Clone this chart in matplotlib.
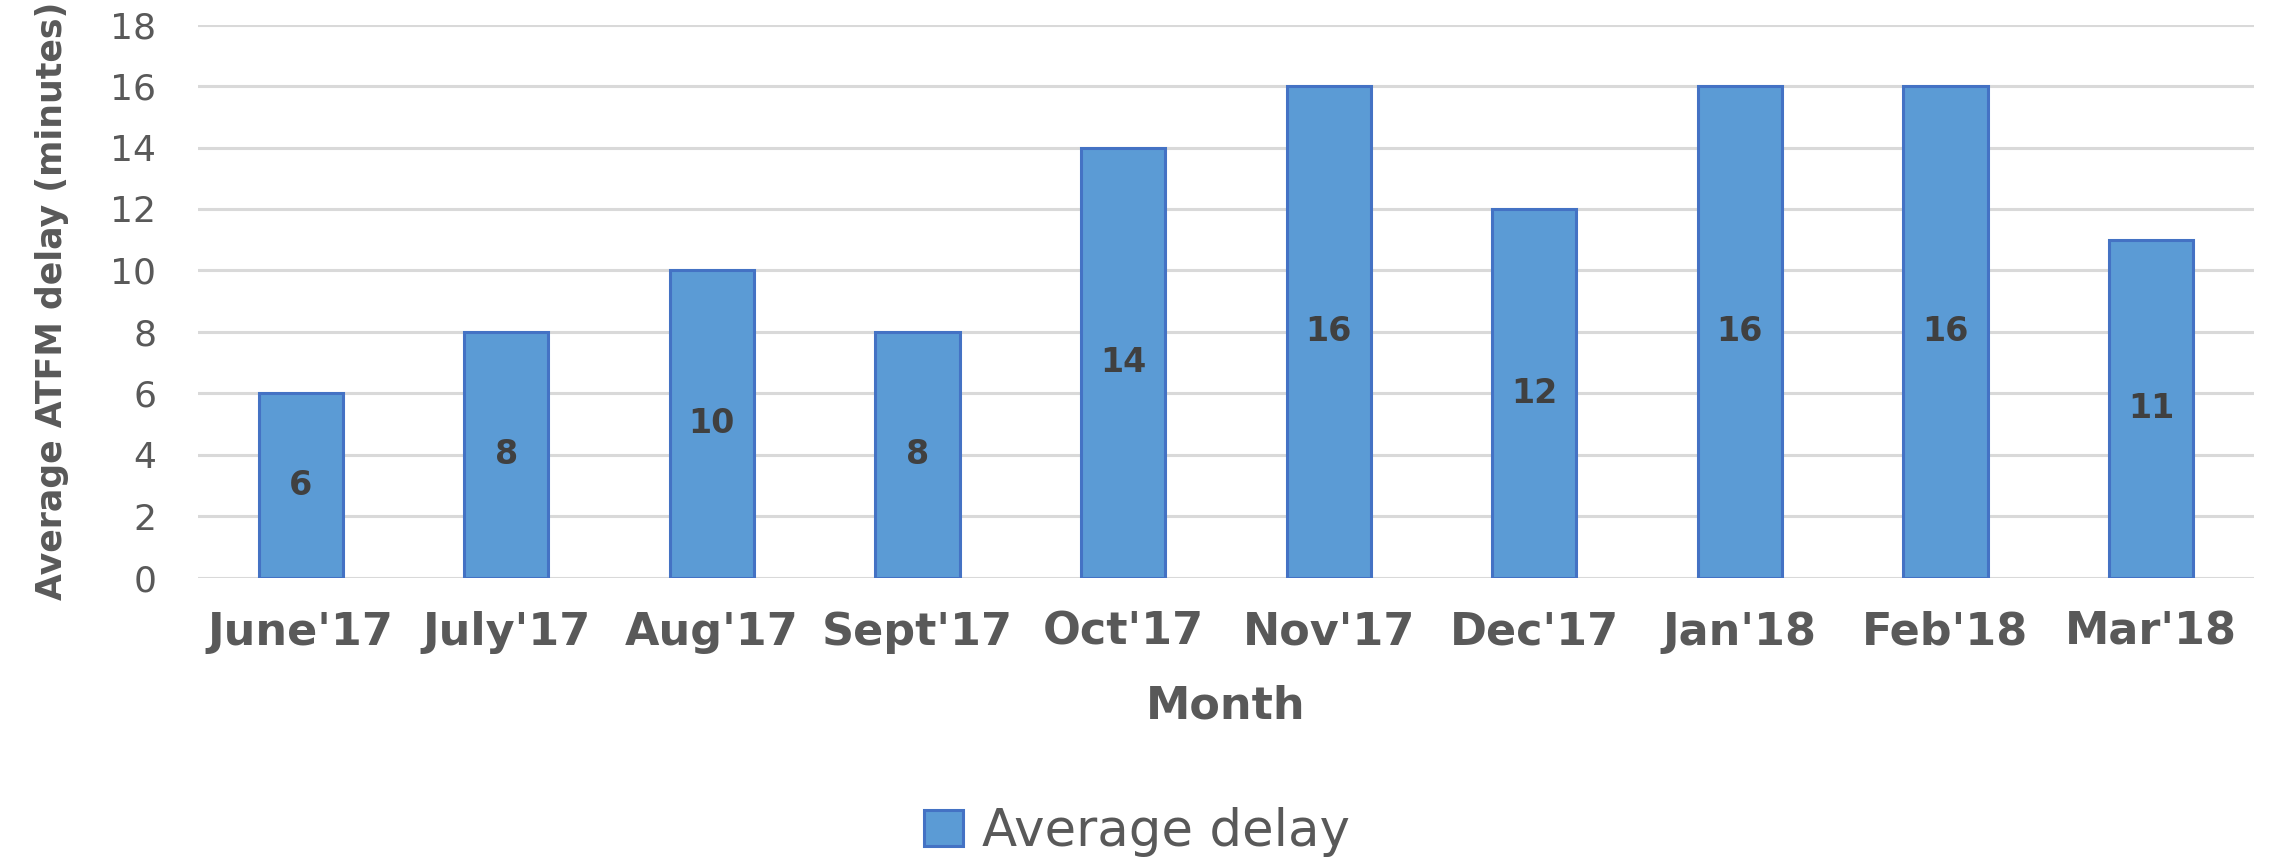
import numpy as np
import matplotlib
matplotlib.use('Agg')
import matplotlib.pyplot as plt


months = ["June'17", "July'17", "Aug'17", "Sept'17", "Oct'17",
          "Nov'17", "Dec'17", "Jan'18", "Feb'18", "Mar'18"]
delay = [6, 8, 10, 8, 14, 16, 12, 16, 16, 11]
y_ticks = [0, 2, 4, 6, 8, 10, 12, 14, 16, 18]

text_grey = '#595959'
bar_fill = '#5B9BD5'
bar_edge = '#4472C4'

fig = plt.figure(figsize=(22.7, 8.58), dpi=100)
ax = fig.add_axes([0.0872, 0.3268, 0.9057, 0.6445])

x = np.arange(len(months))
bars = ax.bar(x, delay, width=0.41, color=bar_fill, edgecolor=bar_edge,
              linewidth=2.2, label='Average delay', zorder=3)
ax.bar_label(bars, label_type='center', fontsize=24, fontweight='bold',
             color='#404040')

ax.set_xlim(-0.5, len(months) - 0.5)
ax.set_ylim(0, 18)
ax.set_yticks(y_ticks)
ax.set_xticks(x)
ax.set_xticklabels(months, fontsize=32, fontweight='bold', color=text_grey)
ax.tick_params(axis='y', labelsize=26, labelcolor=text_grey, length=0, pad=30)
ax.tick_params(axis='x', length=0, pad=24)

ax.grid(axis='y', color='#D9D9D9', linewidth=2.2, zorder=0)
for s in ax.spines.values():
    s.set_visible(False)

ax.set_xlabel('Month', fontsize=32, fontweight='bold', color=text_grey,
              va='center')
ax.xaxis.set_label_coords(0.5, -0.232)
ax.set_ylabel('Average ATFM delay (minutes)', fontsize=25, fontweight='bold',
              color=text_grey, va='center')
ax.yaxis.set_label_coords(-0.071, 0.5)

fig.legend(loc='center', bbox_to_anchor=(0.501, 0.03), frameon=False,
           fontsize=37, handlelength=0.76, handleheight=0.7,
           handletextpad=0.37, labelcolor=text_grey)

fig.savefig('out.png', dpi=100)
